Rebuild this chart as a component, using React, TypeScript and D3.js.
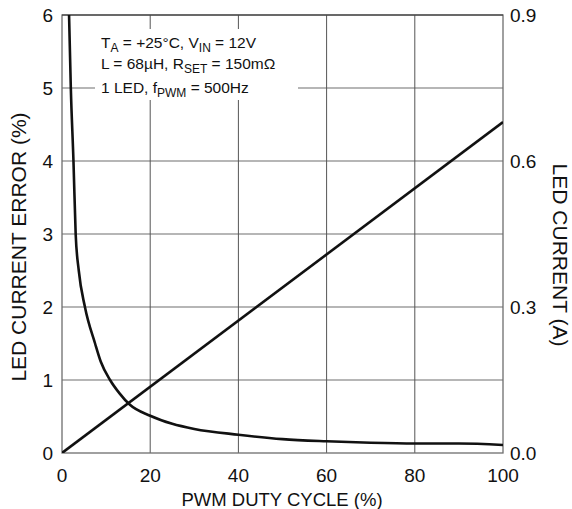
import React from "react";
import * as d3 from "d3";

const errX = [1.6, 2.0, 2.6, 3.1, 3.8, 5.2, 7.5, 8.8, 10.9, 13, 15.4, 20, 25, 30, 40, 50, 60, 70, 80, 90, 100];
const errY = [6, 5, 4, 3, 2.5, 2, 1.5, 1.25, 1, 0.82, 0.66, 0.51, 0.4, 0.33, 0.25, 0.19, 0.16, 0.14, 0.13, 0.13, 0.11];
const curX = [0, 100];
const curY = [0, 0.68];
const xTicks = [0, 20, 40, 60, 80, 100];
const yTicks = [0, 1, 2, 3, 4, 5, 6];
const y2Ticks = ["0.0", "0.3", "0.6", "0.9"];

const W = 572, H = 509;
const L = 62, R = 503, T = 15, B = 453;
const FONT = "'Liberation Sans', Arial, Helvetica, sans-serif";

export default function App() {
  const x = d3.scaleLinear().domain([0, 100]).range([L, R]);
  const y = d3.scaleLinear().domain([0, 6]).range([B, T]);
  const y2 = d3.scaleLinear().domain([0, 0.9]).range([B, T]);

  const errLine = d3
    .line<number>()
    .x((_, i) => x(errX[i]))
    .y((d) => y(d))
    .curve(d3.curveMonotoneX)(errY) as string;
  const curLine = d3
    .line<number>()
    .x((_, i) => x(curX[i]))
    .y((d) => y2(d))(curY) as string;

  return (
    <svg width={W} height={H} style={{ position: "absolute", left: 0, top: 0 }} fontFamily={FONT}>
      <rect x={0} y={0} width={W} height={H} fill="#fff" />
      {/* grid */}
      {yTicks.slice(1, -1).map((t) => (
        <line key={"h" + t} x1={L} x2={R} y1={y(t)} y2={y(t)} stroke="#6e6e6e" strokeWidth={1.2} />
      ))}
      {xTicks.slice(1, -1).map((t) => (
        <line key={"v" + t} x1={x(t)} x2={x(t)} y1={T} y2={B} stroke="#555" strokeWidth={1} />
      ))}
      {/* legend box */}
      <rect x={95} y={29} width={203} height={71} fill="#fff" />
      <text fontSize={15.5} fill="#111">
        <tspan x={101} y={48}>T</tspan>
        <tspan fontSize={12} dy={4}>A</tspan>
        <tspan dy={-4}> = +25°C, V</tspan>
        <tspan fontSize={12} dy={4}>IN</tspan>
        <tspan dy={-4}> = 12V</tspan>
      </text>
      <text fontSize={15.5} fill="#111">
        <tspan x={101} y={69}>L = 68µH, R</tspan>
        <tspan fontSize={12} dy={4}>SET</tspan>
        <tspan dy={-4}> = 150mΩ</tspan>
      </text>
      <text fontSize={15.5} fill="#111">
        <tspan x={101} y={93}>1 LED, f</tspan>
        <tspan fontSize={12} dy={4}>PWM</tspan>
        <tspan dy={-4}> = 500Hz</tspan>
      </text>
      {/* frame */}
      <rect x={L} y={T} width={R - L} height={B - T} fill="none" stroke="#6e6e6e" strokeWidth={1.3} />
      <line x1={L} x2={R} y1={T} y2={T} stroke="#333" strokeWidth={1.2} />
      {/* curves */}
      <defs>
        <clipPath id="plot">
          <rect x={L} y={T} width={R - L} height={B - T} />
        </clipPath>
      </defs>
      <g clipPath="url(#plot)">
        <path d={errLine} fill="none" stroke="#111" strokeWidth={2.6} />
        <path d={curLine} fill="none" stroke="#111" strokeWidth={2.6} />
      </g>
      {/* ticks */}
      {yTicks.map((t) => (
        <text key={"yl" + t} x={53} y={y(t)} dy="0.36em" textAnchor="end" fontSize={19} fill="#111">
          {t}
        </text>
      ))}
      {xTicks.map((t) => (
        <text key={"xl" + t} x={x(t)} y={482} textAnchor="middle" fontSize={19} fill="#111">
          {t}
        </text>
      ))}
      {y2Ticks.map((t) => (
        <text key={"y2" + t} x={510} y={y2(+t)} dy="0.36em" textAnchor="start" fontSize={19} fill="#111">
          {t}
        </text>
      ))}
      {/* titles */}
      <text x={282} y={506} textAnchor="middle" fontSize={18.5} fill="#111">
        PWM DUTY CYCLE (%)
      </text>
      <text transform={`translate(26,${247}) rotate(-90)`} textAnchor="middle" fontSize={21} fill="#111">
        LED CURRENT ERROR (%)
      </text>
      <text transform={`translate(553,${255}) rotate(90)`} textAnchor="middle" fontSize={21} fill="#111">
        LED CURRENT (A)
      </text>
    </svg>
  );
}
